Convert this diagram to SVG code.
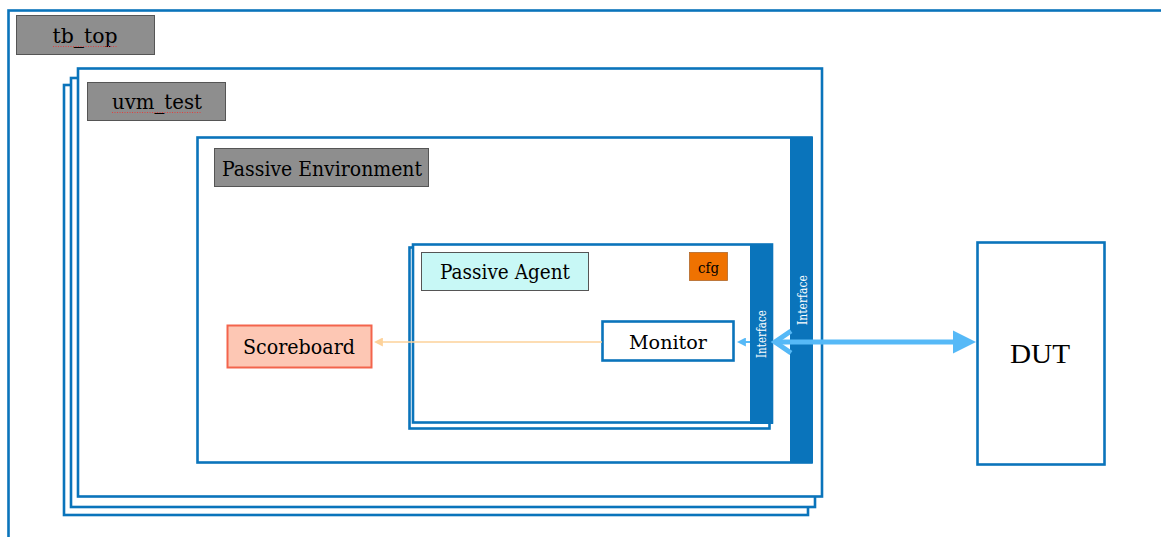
<svg xmlns="http://www.w3.org/2000/svg" width="1161" height="537" viewBox="0 0 1161 537">
  <style>
    .frame { fill: #ffffff; stroke: #0a74bb; stroke-width: 2.6; }
    .tag { fill: #8e8e8e; stroke: #555555; stroke-width: 1; }
    .lbl { font-family: "DejaVu Serif", Georgia, serif; fill: #000000; }
    .bar { fill: #0a74bb; }
    .itf { font-family: "DejaVu Serif", Georgia, serif; font-size: 12.5px; fill: #ffffff; }
    .squig { stroke: #e04040; stroke-width: 1; stroke-dasharray: 1 1.5; fill: none; }
  </style>
  <defs>
    <marker id="headOrange" viewBox="0 0 10 10" refX="1" refY="5" markerWidth="9" markerHeight="9" markerUnits="userSpaceOnUse" orient="auto-start-reverse">
      <path d="M0,0 L10,5 L0,10 Z" fill="#fdd29a"/>
    </marker>
    <marker id="headSmall" viewBox="0 0 10 10" refX="1" refY="5" markerWidth="9" markerHeight="9" markerUnits="userSpaceOnUse" orient="auto-start-reverse">
      <path d="M0,0 L10,5 L0,10 Z" fill="#56b9f7"/>
    </marker>
  </defs>
  <rect width="1161" height="537" fill="#ffffff"/>

  <!-- testbench top -->
  <g id="tb_top">
    <rect class="frame" x="8.5" y="10.5" width="1170" height="560" stroke-width="3"/>
    <rect class="tag" x="16.5" y="15.5" width="138" height="39"/>
    <text class="lbl" x="85" y="43" font-size="20" text-anchor="middle" textLength="65" lengthAdjust="spacingAndGlyphs">tb_top</text>
    <line class="squig" x1="53" y1="46.5" x2="117" y2="46.5"/>
  </g>

  <!-- uvm_test stack -->
  <g id="uvm_test">
    <rect class="frame" x="64" y="85" width="744" height="430"/>
    <rect class="frame" x="71" y="78" width="744" height="429"/>
    <rect class="frame" x="78" y="68.5" width="744" height="428"/>
    <rect class="tag" x="87.5" y="82.5" width="138" height="38"/>
    <text class="lbl" x="157" y="109" font-size="20" text-anchor="middle" textLength="90" lengthAdjust="spacingAndGlyphs">uvm_test</text>
    <line class="squig" x1="112" y1="112.5" x2="202" y2="112.5"/>
  </g>

  <!-- passive environment -->
  <g id="passive_env">
    <rect class="frame" x="197.5" y="137.5" width="614" height="325"/>
    <rect class="bar" x="790" y="137" width="23" height="326"/>
    <text class="itf" transform="translate(807,300) rotate(-90)" text-anchor="middle" textLength="50" lengthAdjust="spacingAndGlyphs">Interface</text>
    <rect class="tag" x="214.5" y="148.5" width="214" height="38"/>
    <text class="lbl" x="322" y="176" font-size="20" text-anchor="middle" textLength="200" lengthAdjust="spacingAndGlyphs">Passive Environment</text>
  </g>

  <!-- passive agent stack -->
  <g id="passive_agent">
    <rect class="frame" x="409.5" y="247.5" width="360" height="181" stroke-width="2"/>
    <rect class="frame" x="413" y="244.5" width="359" height="178"/>
    <rect class="bar" x="750" y="244" width="23" height="180"/>
    <text class="itf" transform="translate(766,334) rotate(-90)" text-anchor="middle" textLength="48" lengthAdjust="spacingAndGlyphs">Interface</text>
    <rect x="421.5" y="252.5" width="167" height="38" fill="#c8f8f6" stroke="#555555" stroke-width="1"/>
    <text class="lbl" x="505" y="279" font-size="20" text-anchor="middle" textLength="130" lengthAdjust="spacingAndGlyphs">Passive Agent</text>
  </g>

  <g id="cfg">
    <rect x="689.5" y="252.5" width="38" height="28" fill="#ef7201" stroke="#b0682a" stroke-width="0.8"/>
    <text class="lbl" x="708.5" y="272.5" font-size="15" text-anchor="middle" textLength="21" lengthAdjust="spacingAndGlyphs">cfg</text>
  </g>

  <g id="monitor">
    <rect class="frame" x="602.5" y="321.5" width="131" height="39"/>
    <text class="lbl" x="668" y="349" font-size="19" text-anchor="middle" textLength="78" lengthAdjust="spacingAndGlyphs">Monitor</text>
  </g>

  <g id="scoreboard">
    <rect x="227.5" y="325.5" width="144" height="42" fill="#fdc7b4" stroke="#f3644c" stroke-width="2"/>
    <text class="lbl" x="299" y="354" font-size="20" text-anchor="middle" textLength="112" lengthAdjust="spacingAndGlyphs">Scoreboard</text>
  </g>

  <g id="dut">
    <rect class="frame" x="977.5" y="242.5" width="127" height="222"/>
    <text x="1040" y="363" font-family="'Liberation Serif', 'Times New Roman', serif" font-size="28" fill="#000000" text-anchor="middle" textLength="60" lengthAdjust="spacingAndGlyphs">DUT</text>
  </g>

  <!-- connectors -->
  <g id="connectors">
    <line x1="602" y1="342" x2="382" y2="342" stroke="#fdd29a" stroke-width="1.5" marker-end="url(#headOrange)"/>
    <line x1="750" y1="342" x2="745" y2="342" stroke="#56b9f7" stroke-width="2" marker-end="url(#headSmall)"/>
    <line x1="776" y1="342" x2="955" y2="342" stroke="#56b9f7" stroke-width="5"/>
    <path d="M953,330.5 L976,342 L953,353.5 Z" fill="#56b9f7"/>
    <path d="M791,331 L775,342 L791,353" fill="none" stroke="#56b9f7" stroke-width="5" stroke-linejoin="miter"/>
  </g>
</svg>
